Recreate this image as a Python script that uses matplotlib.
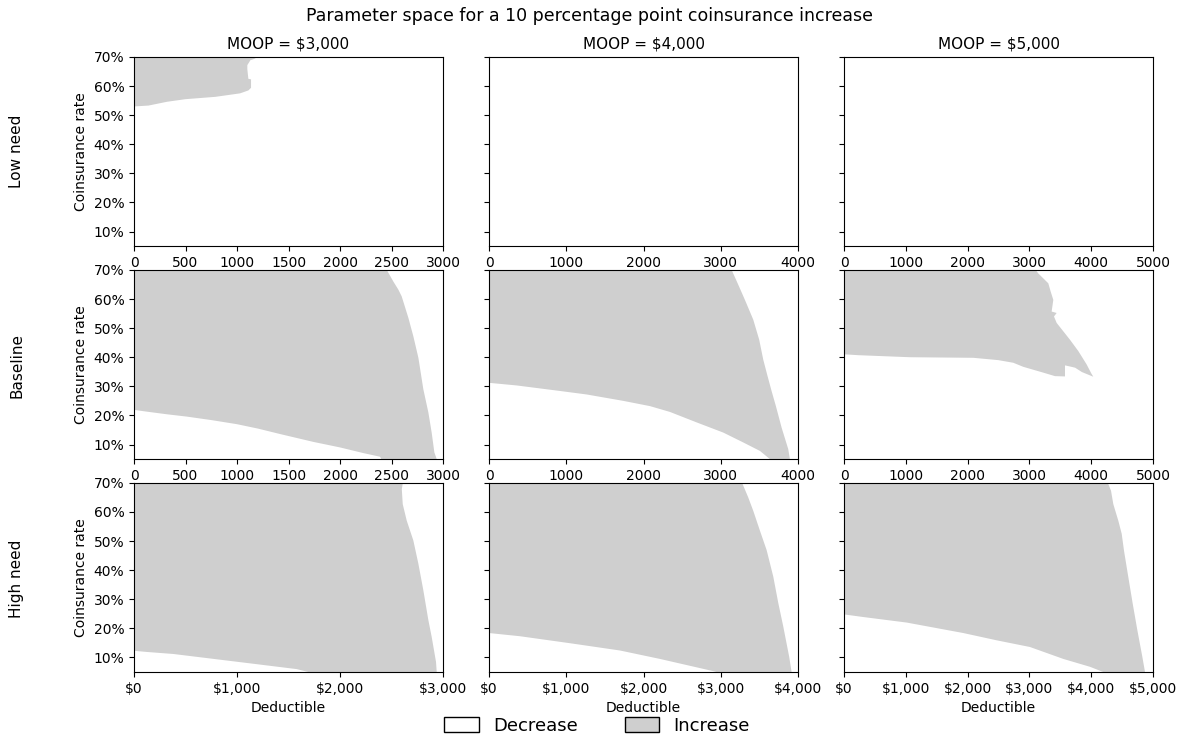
import matplotlib
matplotlib.use('Agg')
import matplotlib.pyplot as plt
from matplotlib.patches import Patch
from matplotlib.ticker import FuncFormatter

# panel settings
moops = [3000, 4000, 5000]
needs = ['Low need', 'Baseline', 'High need']

# boundary of the "Increase" region in each panel (deductible, coinsurance %)
# Low need
low_3000_ded = [0, 0, 140, 320, 500, 790, 1030, 1110, 1136, 1136, 1110, 1100, 1100, 1130, 1165, 1200]
low_3000_coins = [70, 53, 53.3, 54.6, 55.5, 56.3, 57.5, 58.5, 59.4, 62.3, 62.5, 65.8, 67.2, 68.9, 69.3, 70]
low_4000_ded = []
low_4000_coins = []
low_5000_ded = []
low_5000_coins = []

# Baseline
base_3000_ded = [0, 0, 123, 317, 511, 750, 997, 1200, 1418, 1741, 2000, 2227, 2389, 2400,
                 2939, 2916, 2890, 2858, 2809, 2761, 2712, 2664, 2599, 2567, 2518, 2454]
base_3000_coins = [70, 21.9, 21.3, 20.4, 19.6, 18.4, 17.0, 15.5, 13.6, 10.9, 9.0, 7.05, 5.8, 5,
                   5, 7.3, 14.1, 21.0, 29.0, 39.8, 47.2, 53.5, 60.9, 63.2, 66.0, 70]
base_4000_ded = [0, 0, 358, 919, 1264, 1738, 2083, 2342, 2688, 3033, 3292, 3507, 3636,
                 3895, 3874, 3788, 3714, 3658, 3606, 3550, 3498, 3421, 3313, 3227, 3141]
base_4000_coins = [70, 31.2, 30.3, 28.4, 27.2, 25.0, 23.2, 21.2, 17.6, 14.1, 10.7, 7.8, 5,
                   5, 8.4, 15.8, 23.2, 28.4, 33.5, 39.2, 46.0, 52.9, 59.7, 64.9, 70]
base_5000_ded = [0, 0, 232, 1068, 2093, 2497, 2739, 2901, 3225, 3414, 3576, 3576, 3660,
                 3740, 3850, 4034, 4000, 3927, 3792, 3657, 3549, 3441, 3398, 3441, 3360,
                 3387, 3344, 3306, 3225, 3144, 3101]
base_5000_coins = [70, 41.0, 40.7, 40.0, 39.8, 39.0, 38.1, 36.7, 34.7, 33.5, 33.4, 37.2, 36.8,
                   36.4, 34.9, 33.3, 34.5, 37.5, 42.1, 46.0, 48.9, 51.8, 54.0, 55.2, 55.7,
                   59.7, 62.6, 65.4, 67.1, 68.8, 70]

# High need
high_3000_ded = [0, 0, 123, 382, 867, 1191, 1580, 1693,
                 2939, 2932, 2890, 2858, 2809, 2761, 2712, 2648, 2609, 2600, 2610]
high_3000_coins = [70, 12.3, 11.9, 11.2, 9.1, 7.7, 6.0, 5,
                   5, 8.5, 17.1, 22.8, 33.1, 42.2, 50.2, 57.0, 62.7, 67.8, 70]
high_4000_ded = [0, 0, 401, 1048, 1695, 2213, 2558, 2903, 2946,
                 3917, 3887, 3809, 3745, 3680, 3594, 3507, 3421, 3356, 3283, 3270]
high_4000_coins = [70, 18.4, 17.3, 14.9, 12.4, 9.5, 7.4, 5.3, 5,
                   5, 10.1, 20.7, 28.7, 37.8, 46.9, 53.6, 60.4, 65.0, 69.6, 70]
high_5000_ded = [0, 0, 312, 1014, 1930, 2470, 3009, 3549, 3980, 4196,
                 4871, 4828, 4747, 4672, 4601, 4531, 4494, 4439, 4358, 4321, 4277, 4270]
high_5000_coins = [70, 24.8, 23.9, 22.0, 18.4, 15.9, 13.6, 9.5, 6.8, 5,
                   5, 10.2, 19.4, 28.5, 37.6, 46.7, 52.5, 57.0, 62.7, 67.3, 69.6, 70]

regions = [
    [(low_3000_ded, low_3000_coins), (low_4000_ded, low_4000_coins), (low_5000_ded, low_5000_coins)],
    [(base_3000_ded, base_3000_coins), (base_4000_ded, base_4000_coins), (base_5000_ded, base_5000_coins)],
    [(high_3000_ded, high_3000_coins), (high_4000_ded, high_4000_coins), (high_5000_ded, high_5000_coins)],
]

increase_color = '#cfcfcf'

fig, axes = plt.subplots(3, 3, figsize=(11.8, 7.38), dpi=100, sharey=True)
fig.subplots_adjust(left=0.1136, right=0.9771, top=0.9228, bottom=0.0894,
                    wspace=0.149, hspace=0.126)

pct = FuncFormatter(lambda v, p: f'{v:.0f}%')
dollars = FuncFormatter(lambda v, p: f'${v:,.0f}')

for i in range(3):
    for j in range(3):
        ax = axes[i, j]
        ded, coins = regions[i][j]
        if len(ded) > 0:
            ax.fill(ded, coins, color=increase_color, lw=0)
        ax.set_xlim(0, moops[j])
        ax.set_ylim(5, 70)
        ax.set_yticks([10, 20, 30, 40, 50, 60, 70])
        ax.yaxis.set_major_formatter(pct)
        ax.tick_params(labelsize=10)
        if i == 2:
            ax.set_xticks(range(0, moops[j] + 1, 1000))
            ax.xaxis.set_major_formatter(dollars)
            ax.set_xlabel('Deductible', fontsize=10)
        elif j == 0:
            ax.set_xticks(range(0, moops[j] + 1, 500))
        else:
            ax.set_xticks(range(0, moops[j] + 1, 1000))
        if j == 0:
            ax.set_ylabel('Coinsurance rate', fontsize=10)
        if i == 0:
            ax.set_title(f'MOOP = ${moops[j]:,}', fontsize=11)

row_y = [0.7947, 0.5054, 0.2160]
for need, y in zip(needs, row_y):
    fig.text(0.0144, y, need, rotation=90, ha='center', va='center', fontsize=11)

fig.suptitle('Parameter space for a 10 percentage point coinsurance increase',
             fontsize=12.5, y=0.99)

handles = [Patch(facecolor='white', edgecolor='black', label='Decrease'),
           Patch(facecolor=increase_color, edgecolor='black', label='Increase')]
fig.legend(handles=handles, loc='lower center', ncol=2, frameon=False, fontsize=13,
           bbox_to_anchor=(0.506, -0.018), handlelength=1.9, handleheight=0.9,
           columnspacing=2.6)

plt.savefig('out.png', dpi=100)
